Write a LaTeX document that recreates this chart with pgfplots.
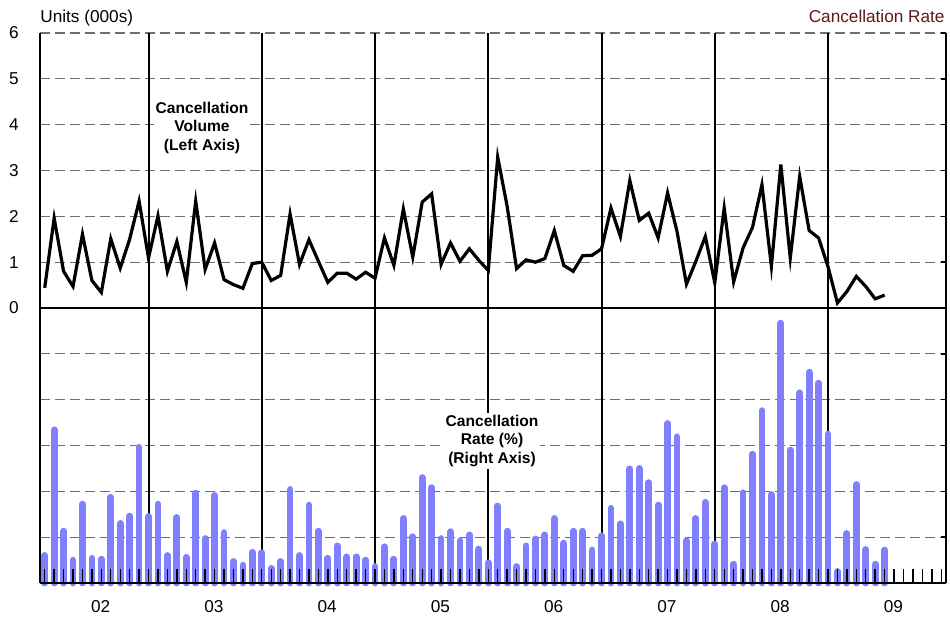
\documentclass[border=0pt]{standalone}
\usepackage{fontspec}
\setmainfont{Liberation Sans}
\usepackage{pgfplots}
\usepackage{pgfplotstable}
\pgfplotsset{compat=1.18}
\definecolor{ratebar}{RGB}{128,128,255}
\definecolor{ratetxt}{RGB}{96,24,24}
\definecolor{gridgray}{RGB}{110,110,110}

% monthly cancellation volume (000s), month index 0 = first month of 02
\pgfplotstableread{
m vol
0 0.44
1 1.96
2 0.80
3 0.47
4 1.61
5 0.60
6 0.34
7 1.51
8 0.87
9 1.50
10 2.33
11 1.09
12 2.01
13 0.80
14 1.45
15 0.56
16 2.33
17 0.84
18 1.42
19 0.62
20 0.51
21 0.43
22 0.97
23 1.00
24 0.60
25 0.71
26 2.05
27 0.95
28 1.49
29 1.02
30 0.56
31 0.76
32 0.76
33 0.63
34 0.78
35 0.65
36 1.53
37 0.93
38 2.16
39 1.11
40 2.31
41 2.49
42 0.95
43 1.42
44 1.02
45 1.29
46 1.04
47 0.82
48 3.29
49 2.22
50 0.86
51 1.05
52 1.00
53 1.08
54 1.69
55 0.93
56 0.80
57 1.14
58 1.15
59 1.29
60 2.18
61 1.56
62 2.78
63 1.91
64 2.07
65 1.53
66 2.51
67 1.67
68 0.52
69 1.02
70 1.56
71 0.55
72 2.18
73 0.57
74 1.31
75 1.76
76 2.69
77 0.91
78 3.13
79 1.09
80 2.87
81 1.69
82 1.53
83 0.90
84 0.11
85 0.36
86 0.69
87 0.47
88 0.20
89 0.28
}\voltable

% monthly cancellation rate (right axis)
\pgfplotstableread{
m rate
0 0.60
1 3.34
2 1.13
3 0.50
4 1.72
5 0.54
6 0.52
7 1.87
8 1.30
9 1.46
10 2.96
11 1.45
12 1.72
13 0.60
14 1.43
15 0.56
16 1.96
17 0.97
18 1.91
19 1.10
20 0.47
21 0.39
22 0.67
23 0.66
24 0.32
25 0.47
26 2.04
27 0.60
28 1.70
29 1.13
30 0.54
31 0.81
32 0.57
33 0.57
34 0.50
35 0.36
36 0.79
37 0.52
38 1.41
39 1.01
40 2.30
41 2.08
42 0.97
43 1.12
44 0.92
45 1.05
46 0.74
47 0.44
48 1.68
49 1.13
50 0.36
51 0.81
52 0.96
53 1.05
54 1.41
55 0.87
56 1.13
57 1.13
58 0.72
59 1.03
60 1.63
61 1.29
62 2.49
63 2.50
64 2.19
65 1.70
66 3.48
67 3.19
68 0.92
69 1.41
70 1.76
71 0.85
72 2.08
73 0.41
74 1.97
75 2.81
76 3.76
77 1.93
78 5.67
79 2.90
80 4.15
81 4.60
82 4.36
83 3.25
84 0.25
85 1.08
86 2.15
87 0.73
88 0.41
89 0.72
}\ratetable

\begin{document}
\begin{tikzpicture}
\useasboundingbox (-20pt,-17.5pt) rectangle (455pt,291.5pt);
\pgfplotsset{
  common/.style={
    scale only axis, width=453pt, height=275pt,
    xmin=-0.5, xmax=95.5, at={(0,0)}, anchor=south west,
    tick align=inside,
    every tick label/.append style={font=\fontsize{8.6}{10}\selectfont},
  },
  gdash/.style={dash pattern=on 5pt off 2.5pt, line width=0.6pt},
}

% layer 1: grid, year lines, volume line
\begin{axis}[common,
  ymin=-6, ymax=6,
  axis x line*=bottom, axis y line*=left,
  axis line style={black, line width=0.65pt},
  major tick length=0pt,
  xtick={5.93,17.93,29.93,41.93,53.93,65.93,77.93,89.93},
  xticklabels={02,03,04,05,06,07,08,09},
  xticklabel style={anchor=center, yshift=-12pt},
  extra x ticks={11,23,35,47,59,71,83},
  extra x tick labels={},
  extra x tick style={grid=major, major grid style={black, solid, line width=1pt}},
  ytick={-6,...,6},
  yticklabels={,,,,,,0,1,2,3,4,5,6},
  yticklabel style={anchor=center, xshift=-13pt},
  ymajorgrids,
  major grid style={gridgray, gdash},
  extra y ticks={0},
  extra y tick labels={},
  extra y tick style={major grid style={black, solid, line width=0.8pt}},
]
\addplot[black, line width=1.6pt] table[x=m, y=vol] {\voltable};
\end{axis}

% layer 2: rate bars with the black dashed grid lines
\begin{axis}[common,
  ymin=0, ymax=12,
  axis x line=none, axis y line=none,
  xtick=\empty,
  ytick={1,2,3,7,8}, yticklabels={},
  major tick length=0pt,
  ymajorgrids,
  major grid style={black, gdash},
  clip=false,
]
\addplot[ycomb, draw=ratebar, line width=3.4pt, line cap=round] table[x=m, y=rate] {\ratetable};
\end{axis}

% layer 3: ticks, frame and labels on top
\begin{axis}[common,
  ymin=-6, ymax=6,
  axis x line*=bottom, axis y line*=right,
  axis line style={black, line width=0.65pt},
  xtick={0,...,95}, xticklabels={},
  major tick length=7pt,
  tick style={black, line width=0.7pt},
  ytick=\empty,
  extra y ticks={-6,...,6}, extra y tick labels={},
  extra y tick style={major tick length=2.5pt},
  clip=false,
]
\node[fill=white, inner sep=1pt, align=center,
      font=\fontsize{7.8}{9.3}\selectfont\bfseries] at (axis cs:16.67,3.93)
      {Cancellation\\Volume\\(Left Axis)};
\node[fill=white, inner sep=1pt, align=center,
      font=\fontsize{7.8}{9.3}\selectfont\bfseries] at (axis cs:47.4,-2.90)
      {Cancellation\\Rate (\%)\\(Right Axis)};
\node[anchor=west, inner sep=0pt, yshift=7.5pt,
      font=\fontsize{8.6}{10}\selectfont] at (rel axis cs:0,1) {Units (000s)};
\node[anchor=east, inner sep=0pt, yshift=8.5pt, xshift=-0.5pt, text=ratetxt,
      font=\fontsize{8.6}{10}\selectfont] at (rel axis cs:1,1) {Cancellation Rate};
\end{axis}
\end{tikzpicture}
\end{document}
